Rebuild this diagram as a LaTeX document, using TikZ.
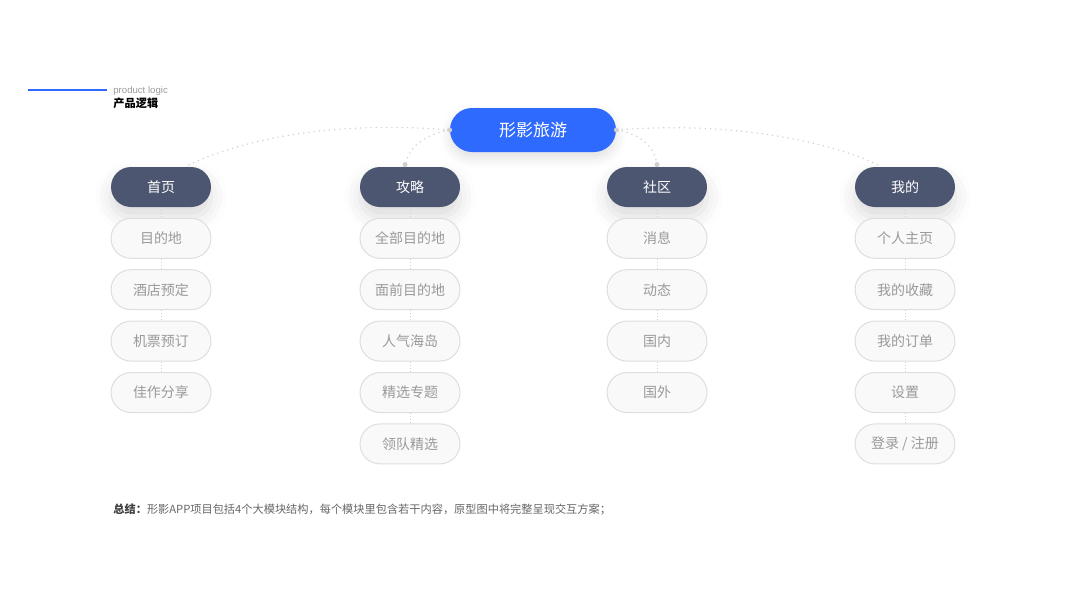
\documentclass[tikz,border=0pt]{standalone}
\usepackage{fontspec}
\setmainfont{Noto Sans CJK SC}
\newfontfamily\latinsans{Liberation Sans}
\usetikzlibrary{positioning,shadows.blur}
\definecolor{appblue}{HTML}{2F6AFE}
\definecolor{catgrey}{HTML}{4C5670}
\definecolor{subfill}{HTML}{F9F9F9}
\definecolor{subline}{HTML}{DEDEDE}
\definecolor{subtext}{HTML}{9A9A9A}
\definecolor{linkgrey}{HTML}{CFCFCF}
\begin{document}
\begin{tikzpicture}[
  x=0.5pt, y=-0.5pt,
  app/.style={fill=appblue, text=white, rounded corners=11pt, minimum width=83pt,
              minimum height=22pt, font=\fontsize{8.5}{10}\selectfont,
              blur shadow={shadow xshift=0pt, shadow yshift=-3pt, shadow opacity=12,
                           shadow blur radius=5pt}},
  module/.style={fill=catgrey, text=white, rounded corners=10pt, minimum width=50pt,
                 minimum height=20pt, font=\fontsize{7}{8}\selectfont,
                 blur shadow={shadow xshift=0pt, shadow yshift=-5pt, shadow opacity=14,
                              shadow blur radius=8pt}},
  item/.style={draw=subline, fill=subfill, text=subtext, rounded corners=10pt,
               minimum width=50pt, minimum height=20pt, line width=0.5pt,
               font=\fontsize{7}{8}\selectfont},
  link/.style={linkgrey, dotted, line width=0.6pt},
  tick/.style={linkgrey, densely dotted, line width=0.5pt},
  dot/.style={circle, fill=linkgrey, inner sep=0pt, minimum size=2.5pt},
  node distance=5.2pt,
]
  \useasboundingbox (0,0) rectangle (1067,600);

  % heading
  \coordinate (barl) at (28,90);
  \coordinate (barr) at (107,90);
  \draw[appblue, line width=0.6pt] (barl) -- (barr);
  \node[anchor=west, inner sep=0pt, text=subtext, font=\latinsans\fontsize{4.8}{5}\selectfont]
    (tag) at (113,91) {product logic};
  \node[anchor=west, inner sep=0pt, font=\bfseries\fontsize{5.6}{6}\selectfont]
    (title) at (113,103) {产品逻辑};

  % root and modules
  \node[app] (root) at (533,130) {形影旅游};
  \node[module] (home) at (161,187) {首页};
  \node[module] (guide) at (410,187) {攻略};
  \node[module] (club) at (657,187) {社区};
  \node[module] (mine) at (905,187) {我的};

  % home
  \node[item, below=of home] (h1) {目的地};
  \node[item, below=of h1] (h2) {酒店预定};
  \node[item, below=of h2] (h3) {机票预订};
  \node[item, below=of h3] (h4) {佳作分享};

  % guide
  \node[item, below=of guide] (g1) {全部目的地};
  \node[item, below=of g1] (g2) {面前目的地};
  \node[item, below=of g2] (g3) {人气海岛};
  \node[item, below=of g3] (g4) {精选专题};
  \node[item, below=of g4] (g5) {领队精选};

  % club
  \node[item, below=of club] (c1) {消息};
  \node[item, below=of c1] (c2) {动态};
  \node[item, below=of c2] (c3) {国内};
  \node[item, below=of c3] (c4) {国外};

  % mine
  \node[item, below=of mine] (m1) {个人主页};
  \node[item, below=of m1] (m2) {我的收藏};
  \node[item, below=of m2] (m3) {我的订单};
  \node[item, below=of m3] (m4) {设置};
  \node[item, below=of m4] (m5) {登录 / 注册};

  % links from root
  \draw[link] (root.west) .. controls (330,120) and (240,140) .. ([xshift=12pt]home.north);
  \draw[link] (root.west) .. controls (425,134) and (407,148) .. ([xshift=-2.5pt]guide.north);
  \draw[link] (root.east) .. controls (642,134) and (656,148) .. (club.north);
  \draw[link] (root.east) .. controls (740,120) and (840,145) .. ([xshift=-12pt]mine.north);
  \node[dot] (d1) at (root.west) {};
  \node[dot] (d2) at ([xshift=-2.5pt, yshift=1pt]guide.north) {};
  \node[dot] (d3) at (root.east) {};
  \node[dot] (d4) at ([yshift=1pt]club.north) {};

  % ticks between items
  \draw[tick] (home) -- (h1);
  \draw[tick] (h1) -- (h2);
  \draw[tick] (h2) -- (h3);
  \draw[tick] (h3) -- (h4);
  \draw[tick] (guide) -- (g1);
  \draw[tick] (g1) -- (g2);
  \draw[tick] (g2) -- (g3);
  \draw[tick] (g3) -- (g4);
  \draw[tick] (g4) -- (g5);
  \draw[tick] (club) -- (c1);
  \draw[tick] (c1) -- (c2);
  \draw[tick] (c2) -- (c3);
  \draw[tick] (c3) -- (c4);
  \draw[tick] (mine) -- (m1);
  \draw[tick] (m1) -- (m2);
  \draw[tick] (m2) -- (m3);
  \draw[tick] (m3) -- (m4);
  \draw[tick] (m4) -- (m5);

  % summary
  \node[anchor=west, inner sep=0pt, font=\fontsize{5.6}{6}\selectfont] (sum) at (113,510)
    {\textcolor{black!75}{\bfseries 总结：}\textcolor{black!60}{形影APP项目包括4个大模块结构，每个模块里包含若干内容，原型图中将完整呈现交互方案；}};
\end{tikzpicture}
\end{document}
